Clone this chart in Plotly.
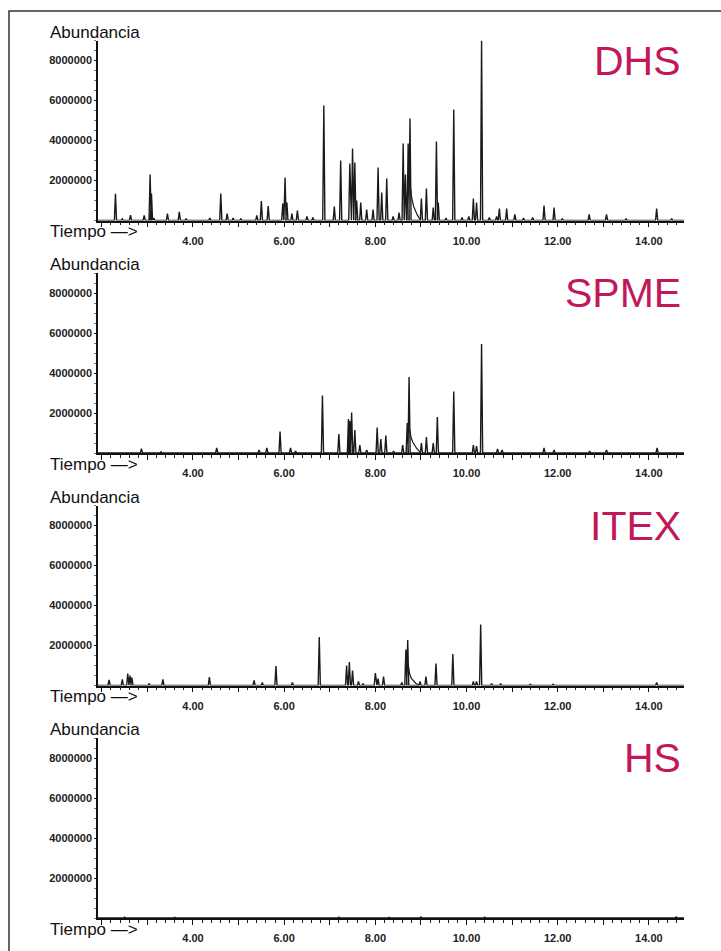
import plotly.graph_objects as go

W, H = 721, 951

panel_names = ["DHS", "SPME", "ITEX", "HS"]

# retention time (min) and peak height (millions of counts)
dhs_t = [2.30, 2.45, 2.63, 2.93, 3.06, 3.09, 3.14, 3.44, 3.70, 3.85, 4.37, 4.61, 4.75, 4.88, 5.05,
         5.40, 5.50, 5.65, 5.97, 6.02, 6.06, 6.17, 6.29, 6.50, 6.63, 6.87, 7.10, 7.24, 7.44, 7.50,
         7.55, 7.59, 7.68, 7.81, 7.95, 8.06, 8.14, 8.25, 8.39, 8.52, 8.61, 8.66, 8.72, 8.76, 9.01,
         9.12, 9.27, 9.34, 9.38, 9.55, 9.72, 9.90, 10.05, 10.15, 10.22, 10.33, 10.50, 10.66, 10.72,
         10.88, 11.06, 11.25, 11.45, 11.70, 11.92, 12.10, 12.69, 13.07, 13.50, 14.17, 14.50]
dhs_h = [1.33, 0.08, 0.27, 0.25, 2.30, 1.35, 0.12, 0.35, 0.43, 0.10, 0.12, 1.35, 0.35, 0.12, 0.10,
         0.25, 0.97, 0.72, 0.85, 2.15, 0.90, 0.35, 0.50, 0.20, 0.15, 5.75, 0.70, 3.00, 2.85, 3.60,
         2.90, 1.00, 0.90, 0.55, 0.55, 2.65, 1.40, 2.10, 0.20, 0.40, 3.85, 2.30, 3.85, 5.10, 1.10,
         1.60, 0.65, 3.95, 0.90, 0.12, 5.55, 0.15, 0.20, 1.10, 0.90, 9.00, 0.15, 0.20, 0.60,
         0.60, 0.30, 0.12, 0.15, 0.75, 0.65, 0.10, 0.30, 0.30, 0.10, 0.60, 0.10]
dhs_tail_t = [8.775, 8.80, 8.84, 8.88, 8.92, 8.96, 9.00]
dhs_tail_h = [1.60, 1.10, 0.70, 0.45, 0.28, 0.12, 0.03]

spme_t = [2.87, 3.30, 4.52, 5.45, 5.62, 5.91, 6.14, 6.25, 6.84, 7.20, 7.41, 7.44, 7.48, 7.55, 7.66,
          7.81, 8.04, 8.12, 8.23, 8.40, 8.60, 8.70, 8.74, 9.01, 9.12, 9.27, 9.36, 9.72, 10.15, 10.22,
          10.33, 10.68, 10.78, 11.70, 11.92, 12.70, 13.07, 14.18]
spme_h = [0.22, 0.06, 0.25, 0.15, 0.25, 1.07, 0.25, 0.10, 2.87, 0.95, 1.70, 1.60, 2.03, 1.15, 0.40,
          0.15, 1.27, 0.70, 0.87, 0.10, 0.40, 1.50, 3.80, 0.50, 0.80, 0.50, 1.80, 3.07, 0.40, 0.35,
          5.45, 0.20, 0.15, 0.25, 0.15, 0.10, 0.15, 0.25]
spme_tail_t = [8.755, 8.78, 8.82, 8.86, 8.90, 8.95, 9.00]
spme_tail_h = [1.20, 0.80, 0.55, 0.38, 0.25, 0.12, 0.03]

itex_t = [2.16, 2.45, 2.57, 2.62, 2.66, 3.04, 3.34, 4.36, 5.34, 5.52, 5.82, 6.18, 6.77, 7.37, 7.43,
          7.50, 7.63, 7.73, 8.00, 8.06, 8.18, 8.58, 8.67, 8.71, 8.98, 9.11, 9.33, 9.70, 10.15, 10.22,
          10.31, 10.55, 10.75, 11.40, 11.90, 14.17]
itex_h = [0.28, 0.30, 0.60, 0.50, 0.40, 0.10, 0.30, 0.42, 0.25, 0.15, 0.97, 0.15, 2.42, 1.00, 1.17,
          0.75, 0.20, 0.10, 0.62, 0.35, 0.45, 0.15, 1.80, 2.28, 0.20, 0.45, 1.10, 1.58, 0.20, 0.20,
          3.05, 0.10, 0.10, 0.06, 0.06, 0.15]
itex_tail_t = [8.725, 8.75, 8.79, 8.84, 8.89, 8.95]
itex_tail_h = [1.00, 0.60, 0.35, 0.20, 0.10, 0.03]

hs_t = [2.50, 3.60, 5.00, 6.40, 7.20, 8.30, 9.00, 10.40, 11.60, 12.50, 13.40, 14.60]
hs_h = [0.04, 0.03, 0.03, 0.03, 0.04, 0.03, 0.05, 0.04, 0.03, 0.03, 0.03, 0.05]

peaks = [(dhs_t, dhs_h), (spme_t, spme_h), (itex_t, itex_h), (hs_t, hs_h)]
tails = [(dhs_tail_t, dhs_tail_h), (spme_tail_t, spme_tail_h), (itex_tail_t, itex_tail_h), None]

y_tick_vals = [2e6, 4e6, 6e6, 8e6]
y_tick_text = ["2000000", "4000000", "6000000", "8000000"]
x_tick_vals = [2, 3, 4, 5, 6, 7, 8, 9, 10, 11, 12, 13, 14]
x_tick_text = ["", "", "4.00", "", "6.00", "", "8.00", "", "10.00", "", "12.00", "", "14.00"]

X_RANGE = [1.917, 14.77]
Y_RANGE = [0, 9.0e6]
HW = 0.024  # peak half-width (min), drawing style
TITLE_COLOR = "#C2185B"
LINE_COLOR = "#1a1a1a"

# panel geometry in pixels
AX_LEFT, AX_RIGHT = 98, 684
BASELINES = [220.5, 453.0, 685.5, 918.0]
PANEL_H = 180.0


def px(x):
    return x / W


def py(y):
    return 1 - y / H


fig = go.Figure()
layout = dict(
    width=W, height=H, margin=dict(l=0, r=0, t=0, b=0),
    paper_bgcolor="white", plot_bgcolor="white", showlegend=False,
    annotations=[], shapes=[],
)

tick_font = dict(family="Liberation Sans, Arial, sans-serif", size=11, color="#222", weight="bold")
label_font = dict(family="Liberation Sans, Arial, Helvetica, sans-serif", size=17, color="#111")

for i, name in enumerate(panel_names):
    k = "" if i == 0 else str(i + 1)
    base = BASELINES[i]
    top = base - PANEL_H
    pt, ph = peaks[i]
    order = sorted(range(len(pt)), key=lambda j: pt[j])
    xs, ys = [X_RANGE[0]], [0]
    for j in order:
        t, h = pt[j], ph[j] * 1e6
        xs += [t - HW, t, t + HW]
        ys += [0, h, 0]
    xs.append(X_RANGE[1])
    ys.append(0)
    fig.add_trace(go.Scatter(x=xs, y=ys, mode="lines", line=dict(color=LINE_COLOR, width=1.4),
                             xaxis="x" + k, yaxis="y" + k, hoverinfo="skip", cliponaxis=False))
    if tails[i] is not None:
        tt, th = tails[i]
        fig.add_trace(go.Scatter(x=tt, y=[v * 1e6 for v in th], mode="lines",
                                 line=dict(color=LINE_COLOR, width=1.2),
                                 xaxis="x" + k, yaxis="y" + k, hoverinfo="skip"))

    layout["xaxis" + k] = dict(
        domain=[px(AX_LEFT), px(AX_RIGHT)], anchor="y" + k, range=X_RANGE,
        showgrid=False, zeroline=False, showline=True, linecolor="#111", linewidth=1.8,
        tickmode="array", tickvals=x_tick_vals, ticktext=x_tick_text,
        ticks="outside", ticklen=5, tickwidth=1.3, tickcolor="#111",
        tickfont=tick_font, ticklabelstandoff=4,
        minor=dict(dtick=0.2, tick0=2, ticks="outside", ticklen=3, tickwidth=1, tickcolor="#222"),
        fixedrange=True,
    )
    layout["yaxis" + k] = dict(
        domain=[py(base), py(top)], anchor="x" + k, range=Y_RANGE,
        showgrid=False, zeroline=False, showline=True, linecolor="#111", linewidth=1.6,
        tickmode="array", tickvals=y_tick_vals, ticktext=y_tick_text,
        ticks="outside", ticklen=2, tickwidth=1, tickcolor="#222",
        tickfont=tick_font, ticklabelstandoff=0,
        minor=dict(dtick=5e5, tick0=0, ticks="outside", ticklen=2, tickwidth=1, tickcolor="#777"),
        fixedrange=True,
    )
    layout["annotations"] += [
        dict(text="Abundancia", xref="paper", yref="paper", x=px(48), y=py(base - 188.5),
             xanchor="left", yanchor="middle", showarrow=False, font=label_font),
        dict(text="Tiempo —>", xref="paper", yref="paper", x=px(48), y=py(base + 11),
             xanchor="left", yanchor="middle", showarrow=False, font=label_font),
        dict(text=name, xref="paper", yref="paper", x=px(683), y=py(base - 160),
             xanchor="right", yanchor="middle", showarrow=False,
             font=dict(family="Liberation Sans, Arial, Helvetica, sans-serif", size=41,
                       color=TITLE_COLOR)),
    ]

layout["shapes"].append(dict(type="rect", xref="paper", yref="paper",
                             x0=px(9), x1=px(730), y0=py(960), y1=py(11),
                             line=dict(color="#333", width=1.5), fillcolor="rgba(0,0,0,0)"))

fig.update_layout(**layout)
fig.write_html("out.html", config={"displayModeBar": False},
               post_script="document.body.style.margin='0';document.body.style.overflow='hidden';")
